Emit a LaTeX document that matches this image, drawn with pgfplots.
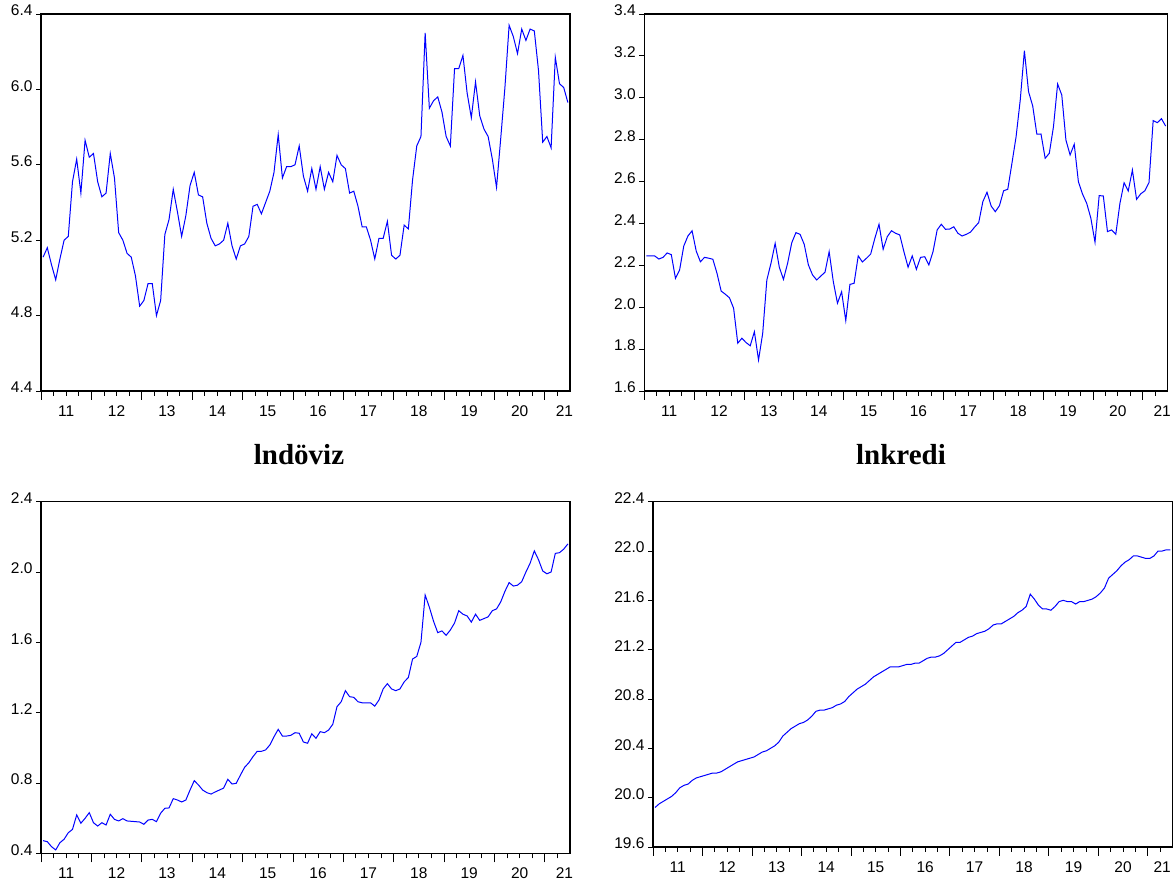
\documentclass[border=0pt]{standalone}
\usepackage{fontspec}
\setmainfont{Liberation Sans}
\newfontfamily\titlefont{Liberation Serif}
\usepackage{pgfplots}
\usepackage{pgfplotstable}
\pgfplotsset{compat=1.18}

\pgfplotstableread{
i a b c d
0 5.11 2.245 0.472 19.92
1 5.16 2.245 0.466 19.95
2 5.07 2.245 0.438 19.97
3 4.99 2.230 0.419 19.99
4 5.10 2.238 0.460 20.01
5 5.20 2.259 0.480 20.04
6 5.22 2.251 0.517 20.08
7 5.51 2.138 0.536 20.10
8 5.63 2.178 0.618 20.11
9 5.45 2.292 0.571 20.14
10 5.73 2.340 0.599 20.16
11 5.64 2.365 0.631 20.17
12 5.66 2.268 0.574 20.18
13 5.51 2.217 0.555 20.19
14 5.43 2.238 0.574 20.20
15 5.45 2.234 0.561 20.20
16 5.66 2.229 0.622 20.21
17 5.53 2.162 0.593 20.23
18 5.24 2.077 0.584 20.25
19 5.20 2.062 0.597 20.27
20 5.13 2.045 0.584 20.29
21 5.11 1.995 0.582 20.30
22 5.01 1.828 0.580 20.31
23 4.85 1.852 0.578 20.32
24 4.88 1.831 0.565 20.33
25 4.97 1.816 0.589 20.35
26 4.97 1.883 0.593 20.37
27 4.80 1.748 0.580 20.38
28 4.88 1.875 0.628 20.40
29 5.23 2.130 0.656 20.42
30 5.31 2.210 0.658 20.45
31 5.47 2.305 0.711 20.50
32 5.35 2.191 0.703 20.53
33 5.22 2.133 0.692 20.56
34 5.33 2.210 0.703 20.58
35 5.49 2.308 0.760 20.60
36 5.56 2.356 0.813 20.61
37 5.44 2.348 0.789 20.63
38 5.43 2.300 0.760 20.66
39 5.29 2.202 0.745 20.70
40 5.21 2.154 0.737 20.71
41 5.17 2.130 0.749 20.71
42 5.18 2.149 0.760 20.72
43 5.20 2.167 0.771 20.73
44 5.29 2.265 0.821 20.75
45 5.17 2.122 0.794 20.76
46 5.10 2.019 0.798 20.78
47 5.17 2.074 0.845 20.82
48 5.18 1.936 0.889 20.85
49 5.22 2.109 0.915 20.88
50 5.38 2.114 0.950 20.90
51 5.39 2.245 0.980 20.92
52 5.34 2.216 0.980 20.95
53 5.40 2.234 0.988 20.98
54 5.46 2.254 1.016 21.00
55 5.56 2.329 1.063 21.02
56 5.76 2.396 1.105 21.04
57 5.53 2.277 1.067 21.06
58 5.59 2.337 1.067 21.06
59 5.59 2.365 1.071 21.06
60 5.60 2.353 1.086 21.07
61 5.70 2.345 1.083 21.08
62 5.54 2.265 1.033 21.08
63 5.46 2.191 1.026 21.09
64 5.58 2.245 1.080 21.09
65 5.47 2.181 1.054 21.11
66 5.59 2.238 1.092 21.13
67 5.47 2.241 1.086 21.14
68 5.56 2.202 1.101 21.14
69 5.51 2.265 1.134 21.15
70 5.65 2.369 1.234 21.17
71 5.60 2.396 1.262 21.20
72 5.58 2.372 1.325 21.23
73 5.45 2.373 1.291 21.26
74 5.46 2.384 1.287 21.26
75 5.38 2.353 1.262 21.28
76 5.27 2.340 1.256 21.30
77 5.27 2.348 1.256 21.31
78 5.20 2.358 1.256 21.33
79 5.10 2.382 1.237 21.34
80 5.21 2.404 1.272 21.35
81 5.21 2.504 1.335 21.37
82 5.30 2.549 1.365 21.40
83 5.12 2.483 1.335 21.41
84 5.10 2.456 1.325 21.41
85 5.12 2.485 1.335 21.43
86 5.28 2.556 1.375 21.45
87 5.26 2.563 1.400 21.47
88 5.52 2.687 1.505 21.50
89 5.70 2.814 1.520 21.52
90 5.75 2.989 1.600 21.55
91 6.30 3.225 1.869 21.65
92 5.90 3.029 1.800 21.61
93 5.94 2.961 1.720 21.56
94 5.96 2.826 1.655 21.53
95 5.88 2.827 1.665 21.53
96 5.75 2.711 1.640 21.52
97 5.70 2.735 1.670 21.55
98 6.11 2.862 1.710 21.59
99 6.11 3.066 1.780 21.60
100 6.18 3.013 1.760 21.59
101 5.98 2.798 1.750 21.59
102 5.85 2.727 1.715 21.57
103 6.04 2.778 1.760 21.59
104 5.86 2.599 1.725 21.59
105 5.79 2.540 1.735 21.60
106 5.75 2.496 1.745 21.61
107 5.63 2.425 1.780 21.63
108 5.48 2.310 1.790 21.66
109 5.74 2.533 1.830 21.70
110 6.01 2.531 1.890 21.78
111 6.34 2.361 1.940 21.81
112 6.28 2.369 1.920 21.84
113 6.19 2.348 1.925 21.88
114 6.32 2.496 1.945 21.91
115 6.26 2.594 2.000 21.93
116 6.32 2.555 2.050 21.96
117 6.31 2.655 2.120 21.96
118 6.10 2.515 2.070 21.95
119 5.72 2.541 2.006 21.94
120 5.75 2.556 1.990 21.94
121 5.69 2.595 2.000 21.96
122 6.17 2.891 2.106 22.00
123 6.03 2.881 2.110 22.00
124 6.01 2.900 2.130 22.01
125 5.93 2.865 2.160 22.01
}\data

\pgfplotsset{evstyle/.style={
  scale only axis, anchor=south west,
  xmin=0, xmax=126,
  axis line style={line width=1.1pt, black},
  tick align=outside,
  xtick pos=bottom, ytick pos=left,
  xtick={0,3,...,123},
  xticklabels={,,11,,,,12,,,,13,,,,14,,,,15,,,,16,,,,17,,,,18,,,,19,,,,20,,,\hspace*{14pt}21},
  extra x ticks={0,12,...,120},
  extra x tick labels={},
  extra x tick style={major tick length=9pt},
  major tick length=5pt,
  tick style={black, line width=0.8pt},
  tick label style={font=\fontsize{15.5}{17}\selectfont},
  yticklabel style={yshift=3.5pt},
  xticklabel style={yshift=-6pt},
  /pgf/number format/assume math mode=true,
  /pgf/number format/fixed, /pgf/number format/fixed zerofill,
  /pgf/number format/precision=1,
  every axis plot/.append style={line width=1pt, color={rgb,255:red,0;green,0;blue,255}, no marks},
}}

\begin{document}
\begin{tikzpicture}
\path[use as bounding box] (0,0) rectangle (1173pt,885pt);

\begin{axis}[evstyle, at={(41pt,494pt)}, width=529pt, height=377pt,
  ymin=4.4, ymax=6.4, ytick={4.4,4.8,5.2,5.6,6.0,6.4}]
\addplot table[x expr=\thisrow{i}+0.5, y=a]{\data};
\end{axis}

\begin{axis}[evstyle, at={(644.3pt,494pt)}, width=523.4pt, height=377pt,
  ymin=1.6, ymax=3.4, ytick={1.6,1.8,2.0,2.2,2.4,2.6,2.8,3.0,3.2,3.4}]
\addplot table[x expr=\thisrow{i}+0.5, y=b]{\data};
\end{axis}

\begin{axis}[evstyle, at={(41pt,31.7pt)}, width=529pt, height=351.6pt,
  ymin=0.4, ymax=2.4, ytick={0.4,0.8,1.2,1.6,2.0,2.4}]
\addplot table[x expr=\thisrow{i}+0.5, y=c]{\data};
\end{axis}

\begin{axis}[evstyle, at={(653pt,38pt)}, width=519.5pt, height=345.3pt,
  ymin=19.6, ymax=22.4, ytick={19.6,20.0,20.4,20.8,21.2,21.6,22.0,22.4},
  xticklabels={,,11,,,,12,,,,13,,,,14,,,,15,,,,16,,,,17,,,,18,,,,19,,,,20,,,\hspace*{4pt}21}]
\addplot table[x expr=\thisrow{i}+0.5, y=d]{\data};
\end{axis}

\node[anchor=base, font=\titlefont\bfseries\fontsize{29}{32}\selectfont] at (299pt,420pt) {lndöviz};
\node[anchor=base, font=\titlefont\bfseries\fontsize{29}{32}\selectfont] at (901pt,420pt) {lnkredi};
\end{tikzpicture}
\end{document}
